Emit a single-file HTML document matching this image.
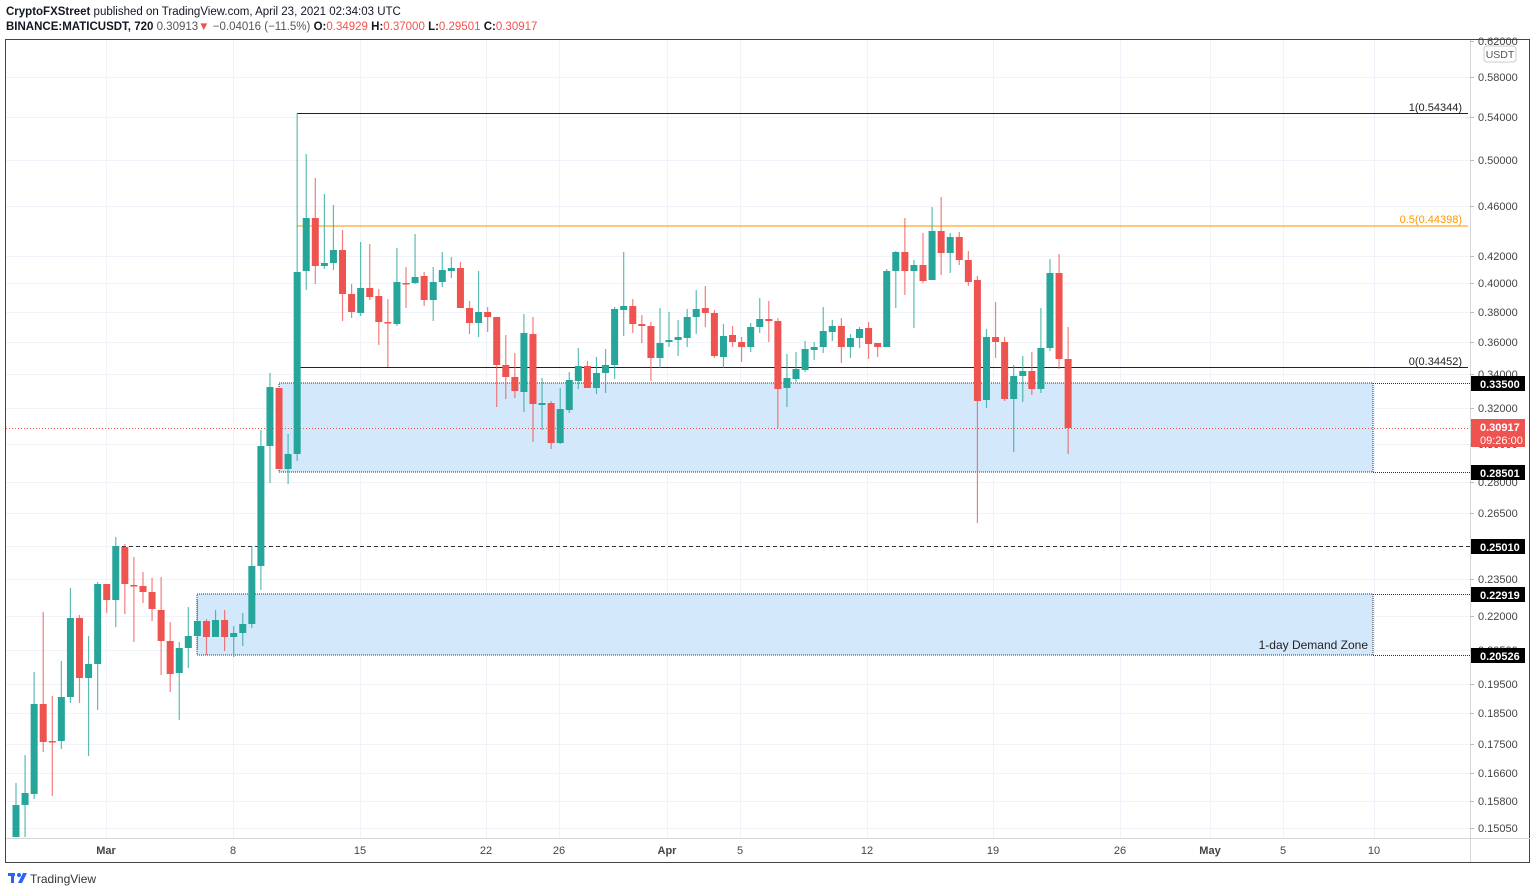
<!DOCTYPE html>
<html><head><meta charset="utf-8"><style>
html,body{margin:0;padding:0;background:#fff;width:1536px;height:895px;overflow:hidden;font-family:"Liberation Sans",sans-serif}
svg{position:absolute;left:0;top:0}
</style></head><body>
<svg id="s" width="1536" height="895" xmlns="http://www.w3.org/2000/svg" font-family="Liberation Sans, sans-serif">
<text x="6" y="15" font-size="11.5" fill="#131722"><tspan font-weight="bold">CryptoFXStreet</tspan> published on TradingView.com, April 23, 2021 02:34:03 UTC</text>
<text x="6" y="30" font-size="11.5" fill="#131722"><tspan font-weight="bold">BINANCE:MATICUSDT, 720</tspan> <tspan fill="#555">0.30913</tspan><tspan fill="#ef5350">▼</tspan><tspan fill="#555"> −0.04016 (−11.5%)</tspan> <tspan font-weight="bold">O:</tspan><tspan fill="#ef5350">0.34929</tspan> <tspan font-weight="bold">H:</tspan><tspan fill="#ef5350">0.37000</tspan> <tspan font-weight="bold">L:</tspan><tspan fill="#ef5350">0.29501</tspan> <tspan font-weight="bold">C:</tspan><tspan fill="#ef5350">0.30917</tspan></text>
<rect x="5.5" y="39.5" width="1524" height="823" fill="none" stroke="#444" stroke-width="1"/>
<g id="grid"></g>
<line x1="1470.5" y1="40" x2="1470.5" y2="862" stroke="#d6d6d6"/>
<line x1="6" y1="838.5" x2="1530" y2="838.5" stroke="#d6d6d6"/>
<!-- zones -->
<rect x="279" y="383" width="1094" height="89" fill="#d4e8fc" stroke="#333" stroke-width="1" stroke-dasharray="1,1"/>
<rect x="197" y="594" width="1176" height="61" fill="#d4e8fc" stroke="#333" stroke-width="1" stroke-dasharray="1,1"/>
<line x1="1373" y1="383.5" x2="1470" y2="383.5" stroke="#333" stroke-dasharray="1,1"/>
<line x1="1373" y1="472.5" x2="1470" y2="472.5" stroke="#333" stroke-dasharray="1,1"/>
<line x1="1373" y1="594.5" x2="1470" y2="594.5" stroke="#333" stroke-dasharray="1,1"/>
<line x1="1373" y1="655.5" x2="1470" y2="655.5" stroke="#333" stroke-dasharray="1,1"/>
<line x1="115" y1="546.5" x2="1470" y2="546.5" stroke="#333" stroke-dasharray="4,3"/>
<line x1="6" y1="428.5" x2="1470" y2="428.5" stroke="#ef5350" stroke-dasharray="1,2" stroke-width="1"/>
<text x="1368" y="649" font-size="12" fill="#222" text-anchor="end">1-day Demand Zone</text>
<!-- fib -->
<line x1="297" y1="113.5" x2="1468" y2="113.5" stroke="#222" stroke-width="1"/>
<line x1="297" y1="226" x2="1468" y2="226" stroke="#ffb74d" stroke-width="1.5"/>
<line x1="297" y1="367.5" x2="1468" y2="367.5" stroke="#222" stroke-width="1"/>
<text x="1462" y="111" font-size="11" fill="#222" text-anchor="end">1(0.54344)</text>
<text x="1462" y="223" font-size="11" fill="#ff9800" text-anchor="end">0.5(0.44398)</text>
<text x="1462" y="365" font-size="11" fill="#222" text-anchor="end">0(0.34452)</text>
<g id="candles"></g>
<g id="axis" font-size="11" fill="#444"></g>
<rect x="1484" y="46" width="32" height="16" rx="3" fill="#fff" stroke="#ccc"/>
<text x="1500" y="58" font-size="10.5" fill="#555" text-anchor="middle">USDT</text>
<g font-size="11" font-weight="bold" fill="#fff">
<rect x="1471" y="376" width="54" height="15" fill="#000"/><text x="1480" y="388">0.33500</text>
<rect x="1471" y="465" width="54" height="15" fill="#000"/><text x="1480" y="477">0.28501</text>
<rect x="1471" y="539" width="54" height="15" fill="#000"/><text x="1480" y="551">0.25010</text>
<rect x="1471" y="587" width="54" height="15" fill="#000"/><text x="1480" y="599">0.22919</text>
<rect x="1471" y="648" width="54" height="15" fill="#000"/><text x="1480" y="660">0.20526</text>
<rect x="1471" y="419" width="54" height="28" fill="#ef5350"/><text x="1480" y="431">0.30917</text>
<text x="1480" y="444" font-weight="normal">09:26:00</text>
</g>
<g transform="translate(8,872)"><path d="M0 3h8v9h3V3h0" fill="none"/><rect x="0" y="1" width="7" height="3" fill="#2962ff"/><rect x="3" y="1" width="3" height="10" fill="#2962ff"/><circle cx="11" cy="3" r="2" fill="#2962ff"/><path d="M10 11l5-10h4l-5 10z" fill="#2962ff"/></g>
<text x="30" y="883" font-size="12" fill="#333">TradingView</text>
</svg>
<script>
var NS="http://www.w3.org/2000/svg";
function el(p,t,a,txt){var e=document.createElementNS(NS,t);for(var k in a)e.setAttribute(k,a[k]);if(txt!=null)e.textContent=txt;p.appendChild(e);return e;}
var grid=document.getElementById('grid'),axis=document.getElementById('axis'),cg=document.getElementById('candles');
var py=[["0.62000",41],["0.58000",77],["0.54000",117],["0.50000",160],["0.46000",206],["0.42000",256],["0.40000",283],["0.38000",312],["0.36000",342],["0.34000",374],["0.32000",408],["0.30000",444],["0.28000",482],["0.26500",513],["0.25000",546],["0.23500",579],["0.22000",616],["0.20500",650],["0.19500",684],["0.18500",713],["0.17500",744],["0.16600",773],["0.15800",801],["0.15050",828]];
py.forEach(function(p){if(p[1]>42)el(grid,'line',{x1:6,y1:p[1]+.5,x2:1470,y2:p[1]+.5,stroke:'#f0f3fa'});el(axis,'line',{x1:1470,y1:p[1]+.5,x2:1474,y2:p[1]+.5,stroke:'#bbb'});el(axis,'text',{x:1478,y:p[1]+4},p[0]);});
var dx=[["Mar",106,1],["8",233],["15",360],["22",486],["26",559],["Apr",667,1],["5",740],["12",867],["19",993],["26",1120],["May",1210,1],["5",1283],["10",1374]];
dx.forEach(function(d){el(grid,'line',{x1:d[0]?d[1]+.5:0,y1:40,x2:d[1]+.5,y2:838,stroke:'#f0f3fa'});var t=el(axis,'text',{x:d[1],y:854,'text-anchor':'middle'},d[0]);if(d[2])t.setAttribute('font-weight','bold');});
// [open,close,high,low] in pixel y
var C=[[837,805,783,837],[805,793,755,837],[794,704,672,799],[704,742,612,752],[741,741,696,796],[741,697,661,749],[697,618,588,703],[618,678,615,703],[678,664,636,756],[664,584,582,710],[584,600,584,613],[600,546,537,627],[547,584,544,614],[585,585,557,642],[586,592,572,603],[592,609,578,621],[610,641,577,675],[641,674,622,692],[673,648,642,720],[648,636,607,668],[636,621,600,650],[621,637,619,655],[637,620,610,637],[620,637,610,651],[637,633,626,657],[633,624,613,646],[624,566,546,628],[566,446,430,590],[446,387,373,483],[388,469,388,469],[469,454,434,484],[454,272,113,461],[271,218,154,290],[218,266,178,284],[266,263,194,269],[263,250,205,270],[250,294,230,321],[294,312,284,318],[313,288,242,316],[288,297,244,300],[296,322,289,345],[322,323,299,367],[324,282,248,326],[283,283,267,308],[283,277,234,284],[276,300,272,306],[300,282,267,321],[282,270,252,287],[271,268,257,278],[268,308,262,308],[308,323,301,334],[323,312,271,337],[312,317,307,332],[317,365,317,407],[365,377,335,399],[377,391,353,398],[392,333,314,412],[334,404,317,442],[405,403,378,430],[403,443,401,449],[443,409,388,444],[410,380,372,413],[381,366,348,389],[366,388,361,388],[388,373,357,394],[373,365,349,393],[365,309,307,379],[310,306,252,336],[306,324,299,333],[324,326,315,343],[326,358,322,381],[358,343,308,368],[342,340,312,347],[340,337,320,356],[338,317,309,347],[317,309,290,334],[308,313,286,327],[313,356,310,358],[357,336,324,368],[335,342,326,347],[342,347,337,362],[347,327,323,352],[327,319,298,333],[319,321,301,342],[321,389,318,428],[388,378,354,407],[379,369,352,382],[370,349,341,372],[350,347,342,360],[347,331,307,353],[332,326,320,341],[326,347,318,363],[347,338,334,358],[338,329,327,348],[328,344,322,359],[343,347,343,357],[347,271,269,347],[271,252,251,308],[252,271,218,295],[271,265,260,328],[265,281,233,283],[280,231,207,280],[231,253,197,275],[253,237,233,273],[237,260,232,265],[260,282,251,286],[280,401,276,523],[400,337,329,408],[337,342,302,358],[342,399,337,401],[399,376,365,452],[376,371,356,402],[371,389,352,395],[389,348,308,393],[348,273,259,351],[273,359,254,369],[359,428,327,454]];
C.forEach(function(c,i){var x=16+9.07*i;var up=c[1]<c[0];var col=up?'#26a69a':'#ef5350';var top=Math.min(c[0],c[1]),bot=Math.max(c[0],c[1]);
el(cg,'line',{x1:x,y1:c[2],x2:x,y2:c[3],stroke:col,'stroke-width':1.2,'stroke-opacity':0.75});
el(cg,'rect',{x:x-3.5,y:top,width:7,height:Math.max(bot-top,1.5),fill:col});});
</script>
</body></html>
